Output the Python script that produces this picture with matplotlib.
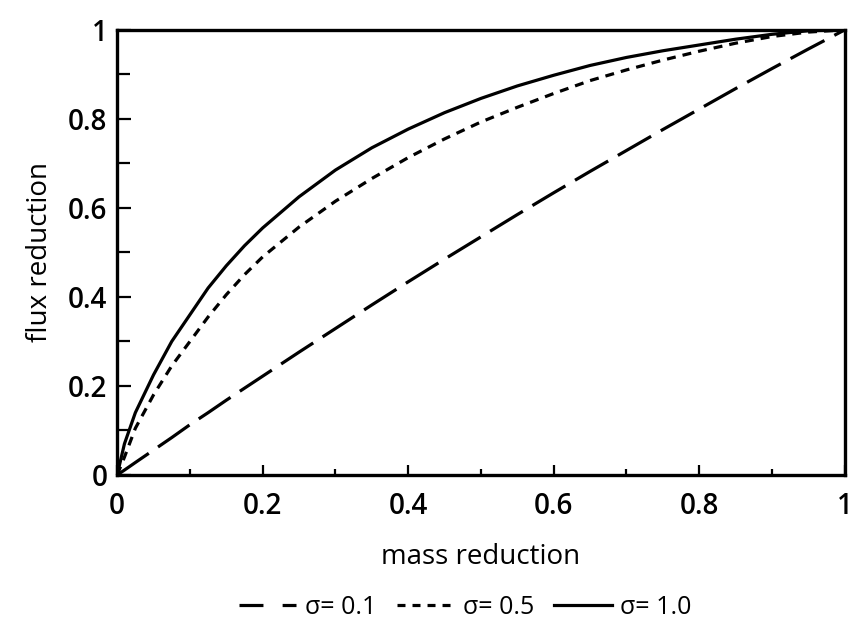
import matplotlib
matplotlib.use("Agg")
import matplotlib.pyplot as plt
from matplotlib.ticker import MultipleLocator
from matplotlib.lines import Line2D

plt.rcParams['font.family'] = ['Open Sans', 'DejaVu Sans']

mass = [0, 0.01, 0.025, 0.05, 0.075, 0.1, 0.125, 0.15, 0.175, 0.2, 0.25, 0.3, 0.35, 0.4,
        0.45, 0.5, 0.55, 0.6, 0.65, 0.7, 0.75, 0.8, 0.85, 0.9, 0.95, 1.0]
flux_s01 = [0, 0.011, 0.028, 0.056, 0.084, 0.113, 0.14, 0.168, 0.195, 0.222, 0.276, 0.329,
            0.382, 0.434, 0.485, 0.535, 0.585, 0.634, 0.682, 0.729, 0.776, 0.822,
            0.868, 0.913, 0.957, 1.0]
flux_s05 = [0, 0.04, 0.105, 0.18, 0.245, 0.30, 0.355, 0.405, 0.45, 0.49, 0.557, 0.615,
            0.666, 0.713, 0.755, 0.793, 0.826, 0.857, 0.886, 0.91, 0.932, 0.952,
            0.97, 0.985, 0.995, 1.0]
flux_s10 = [0, 0.07, 0.14, 0.225, 0.30, 0.36, 0.42, 0.47, 0.515, 0.555, 0.625, 0.685,
            0.735, 0.777, 0.814, 0.846, 0.874, 0.898, 0.92, 0.938, 0.953, 0.966,
            0.979, 0.99, 0.998, 1.0]
labels = ['σ= 0.1', 'σ= 0.5', 'σ= 1.0']
x_ticks = [0, 0.2, 0.4, 0.6, 0.8, 1]
x_ticklabels = ['0', '0.2', '0.4', '0.6', '0.8', '1']
y_ticks = [0, 0.2, 0.4, 0.6, 0.8, 1]
y_ticklabels = ['0', '0.2', '0.4', '0.6', '0.8', '1']

fig = plt.figure(figsize=(8.49, 6.35), dpi=100)
ax = fig.add_axes([0.138, 0.252, 0.857, 0.701])

lw = 2.3
dash_long = (12, 3.5)
dash_short = (2.8, 2.2)
ax.plot(mass, flux_s01, color='black', lw=lw, dashes=dash_long)
ax.plot(mass, flux_s05, color='black', lw=lw, dashes=dash_short)
ax.plot(mass, flux_s10, color='black', lw=lw)

ax.set_xlim(0, 1)
ax.set_ylim(0, 1)
ax.set_xticks(x_ticks)
ax.set_xticklabels(x_ticklabels)
ax.set_yticks(y_ticks)
ax.set_yticklabels(y_ticklabels)
ax.xaxis.set_minor_locator(MultipleLocator(0.1))
ax.yaxis.set_minor_locator(MultipleLocator(0.1))
ax.tick_params(axis='both', which='both', direction='in', labelsize=20, width=1.6)
ax.tick_params(axis='y', which='major', length=10, pad=7)
ax.tick_params(axis='y', which='minor', length=9)
ax.tick_params(axis='x', which='major', length=7, pad=12)
ax.tick_params(axis='x', which='minor', length=4)
for lab in ax.get_xticklabels() + ax.get_yticklabels():
    lab.set_fontweight('semibold')

for s in ax.spines.values():
    s.set_linewidth(2.4)

ax.set_xlabel('mass reduction', fontsize=20, labelpad=16)
ax.set_ylabel('flux reduction', fontsize=20, labelpad=10)

h1 = Line2D([], [], color='black', lw=lw, dashes=(7.5, 6))
h2 = Line2D([], [], color='black', lw=lw, dashes=(2.5, 2.2))
h3 = Line2D([], [], color='black', lw=lw)
fig.legend(handles=[h1, h2, h3], labels=labels, loc='center',
           bbox_to_anchor=(0.548, 0.043), ncol=3, frameon=False, fontsize=18,
           handlelength=2.3, handletextpad=0.35, columnspacing=0.8)

fig.savefig('out.png', dpi=100)
